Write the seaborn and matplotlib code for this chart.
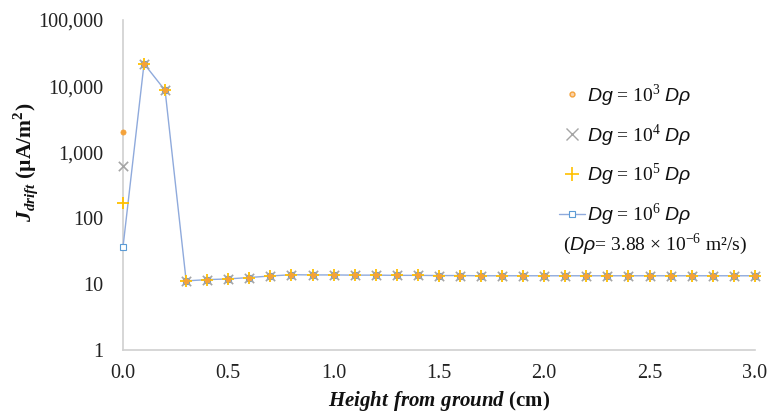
import numpy as np
import pandas as pd
import matplotlib
matplotlib.use("Agg")
import matplotlib.pyplot as plt
from matplotlib.lines import Line2D
import seaborn as sns

heights = [0.0, 0.1, 0.2, 0.3, 0.4, 0.5, 0.6, 0.7, 0.8, 0.9, 1.0,
           1.1, 1.2, 1.3, 1.4, 1.5, 1.6, 1.7, 1.8, 1.9, 2.0,
           2.1, 2.2, 2.3, 2.4, 2.5, 2.6, 2.7, 2.8, 2.9, 3.0]
common_tail = [21800, 8600, 11.3, 11.8, 12.1, 12.7, 13.4, 14.0, 13.9, 13.9,
               13.8, 13.8, 13.7, 13.7, 13.6, 13.6, 13.5, 13.5, 13.5, 13.5,
               13.5, 13.5, 13.5, 13.5, 13.5, 13.5, 13.5, 13.5, 13.5, 13.5]
j_dg3 = [2030] + common_tail
j_dg4 = [620] + common_tail
j_dg5 = [171] + common_tail
j_dg6 = [36.5] + common_tail
series_labels = [r"$\mathit{Dg}$ = 10$^{3}$ $\mathit{D\rho}$",
                 r"$\mathit{Dg}$ = 10$^{4}$ $\mathit{D\rho}$",
                 r"$\mathit{Dg}$ = 10$^{5}$ $\mathit{D\rho}$",
                 r"$\mathit{Dg}$ = 10$^{6}$ $\mathit{D\rho}$"]
y_ticks = [1, 10, 100, 1000, 10000, 100000]
y_ticklabels = ["1", "10", "100", "1,000", "10,000", "100,000"]
x_ticks = [0.0, 0.5, 1.0, 1.5, 2.0, 2.5, 3.0]
x_ticklabels = ["0.0", "0.5", "1.0", "1.5", "2.0", "2.5", "3.0"]

sns.set_theme(style="white")
plt.rcParams["font.family"] = ["Liberation Serif", "DejaVu Serif"]
plt.rcParams["mathtext.fontset"] = "custom"
plt.rcParams["mathtext.rm"] = "Liberation Serif"
plt.rcParams["mathtext.it"] = "Liberation Sans:italic"
plt.rcParams["mathtext.bf"] = "Liberation Serif:bold"
plt.rcParams["mathtext.bfit"] = "Liberation Serif:italic:bold"

df = pd.DataFrame({"x": heights * 4,
                   "y": j_dg3 + j_dg4 + j_dg5 + j_dg6,
                   "s": sum([[l] * len(heights) for l in series_labels], [])})

fig = plt.figure(figsize=(7.71, 4.17), dpi=100)
ax = fig.add_axes([0.1595, 0.1595, 0.979 - 0.1595, 0.7926])

c1, c2, c3, c4 = "#F4A23A", "#A5A5A5", "#FFC000", "#8FAADC"
sq_edge = "#5B9BD5"

d6 = df[df.s == series_labels[3]]
sns.lineplot(data=d6, x="x", y="y", ax=ax, color=c4, linewidth=1.0,
             marker="s", markersize=5, markerfacecolor="white",
             markeredgecolor=sq_edge, markeredgewidth=0.8, legend=False)
sns.scatterplot(data=df[df.s == series_labels[1]], x="x", y="y", ax=ax,
                marker="x", s=45, color=c2, linewidth=1.2, legend=False, zorder=3)
sns.scatterplot(data=df[df.s == series_labels[2]], x="x", y="y", ax=ax,
                marker="+", s=70, color=c3, linewidth=1.3, legend=False, zorder=4)
sns.scatterplot(data=df[df.s == series_labels[0]], x="x", y="y", ax=ax,
                marker="o", s=14, color=c1, edgecolor=c1, linewidth=0.5,
                legend=False, zorder=5)
for art in ax.lines + ax.collections:
    art.set_clip_on(False)

ax.set_yscale("log")
ax.set_ylim(1, 100000)
ax.set_xlim(0, 3.0)
ax.set_yticks(y_ticks)
ax.set_yticklabels(y_ticklabels)
ax.set_xticks(x_ticks)
ax.set_xticklabels(x_ticklabels)
ax.minorticks_off()
ax.tick_params(axis="both", length=0, labelsize=14.5, colors="#222222")
ax.tick_params(axis="y", pad=14)
ax.tick_params(axis="x", pad=10)
for s in ["top", "right"]:
    ax.spines[s].set_visible(False)
for s in ["left", "bottom"]:
    ax.spines[s].set_color("#D0D0D0")
    ax.spines[s].set_linewidth(1.2)
    ax.spines[s].set_zorder(0)
ax.set_facecolor("white")

ax.set_xlabel(r"$\mathbfit{Height\ from\ ground}$ (cm)", fontsize=15,
              fontweight="bold", color="#111111", labelpad=4)
ax.set_ylabel(r"$\mathbfit{J}_{\mathbfit{drift}}$ (µA/m$^{\mathbf{2}}$)", fontsize=15.5,
              fontweight="bold", color="#111111")
ax.yaxis.set_label_coords(-0.132, 0.57)

handles = [
    Line2D([], [], linestyle="none", marker="o", markersize=3.5,
           markerfacecolor="#FBD2A8", markeredgecolor=c1),
    Line2D([], [], linestyle="none", marker="x", markersize=8, color=c2, markeredgewidth=1.0),
    Line2D([], [], linestyle="none", marker="+", markersize=10, color=c3, markeredgewidth=1.2),
    Line2D([], [], color=c4, linewidth=1.0, marker="s", markersize=5,
           markerfacecolor="white", markeredgecolor=sq_edge, markeredgewidth=0.8),
]
leg = fig.legend(handles, series_labels, loc="upper left",
                 bbox_to_anchor=(551 / 771, 1 - 74 / 417), frameon=False,
                 fontsize=14, labelspacing=0.72, handlelength=1.35,
                 handletextpad=0.12, borderaxespad=0)
for t in leg.get_texts():
    t.set_color("#111111")
fig.text(563 / 771, 1 - 244 / 417, r"($\mathit{D\rho}$= 3.88 × 10$^{-6}$ m²/s)",
         fontsize=14, va="center", ha="left", color="#111111")

fig.savefig("out.png", dpi=100, facecolor="white")
